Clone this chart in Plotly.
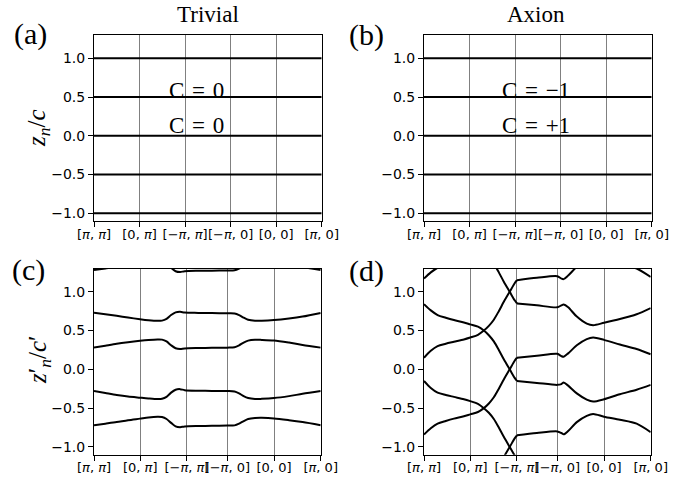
import plotly.graph_objects as go

W, H = 687, 479

# ---------------- data ----------------
TICK_LABELS = ["[<i>π</i>, <i>π</i>]", "[0, <i>π</i>]", "[−<i>π</i>, <i>π</i>]",
               "[−<i>π</i>, 0]", "[0, 0]", "[<i>π</i>, 0]"]
TOP_TICKS = [0, 1, 2, 3, 4, 5]
BOTTOM_TICKS = [0, 1.02, 2.05, 2.94, 3.97, 5.0]
Y_TICKS = [-1.0, -0.5, 0.0, 0.5, 1.0]
Y_TICK_TEXT = ["−1.0", "−0.5", "0.0", "0.5", "1.0"]

# (a) trivial and (b) axion: flat Wannier centres z_n/c
TRIVIAL_LEVELS = [-1.0, -0.5, 0.0, 0.5, 1.0]
AXION_LEVELS = [-1.0, -0.5, 0.0, 0.5, 1.0]
TRIVIAL_CHERN = ["C\u2004=\u20040", "C\u2004=\u20040"]
AXION_CHERN = ["C\u2004=\u2004−1", "C\u2004=\u2004+1"]

# (c) trivial: z'_n/c'
C_X = [0, 0.25, 0.5, 0.75, 1.015, 1.2, 1.4, 1.5, 1.6, 1.7, 1.8, 1.9, 2.0, 2.3, 2.6,
       2.94, 3.1, 3.2, 3.3, 3.4, 3.55, 3.7, 3.97, 4.3, 4.6, 5.0]
C_BAND1 = [0.73, 0.71, 0.69, 0.668, 0.646, 0.633, 0.625, 0.628, 0.65, 0.70, 0.735, 0.742,
           0.732, 0.728, 0.725, 0.722, 0.72, 0.70, 0.667, 0.64, 0.627, 0.627, 0.635, 0.655,
           0.68, 0.727]
C_BAND2 = [0.28, 0.305, 0.33, 0.35, 0.368, 0.378, 0.385, 0.383, 0.36, 0.31, 0.272, 0.262,
           0.27, 0.275, 0.278, 0.28, 0.285, 0.31, 0.345, 0.37, 0.382, 0.38, 0.372, 0.345,
           0.315, 0.28]
C_BAND3 = [-0.28, -0.305, -0.33, -0.35, -0.365, -0.375, -0.383, -0.38, -0.355, -0.30,
           -0.262, -0.255, -0.268, -0.275, -0.278, -0.28, -0.285, -0.31, -0.345, -0.37,
           -0.382, -0.38, -0.37, -0.345, -0.315, -0.28]
C_BAND4 = [-0.72, -0.70, -0.68, -0.655, -0.635, -0.62, -0.612, -0.615, -0.64, -0.69,
           -0.735, -0.745, -0.735, -0.73, -0.728, -0.725, -0.722, -0.70, -0.667, -0.64,
           -0.627, -0.625, -0.632, -0.655, -0.68, -0.72]
C_BAND4_IMAGE = [1.28, 1.30, 1.32, 1.345, 1.365, 1.38, 1.388, 1.385, 1.36, 1.31, 1.265,
                 1.255, 1.265, 1.27, 1.272, 1.275, 1.278, 1.30, 1.333, 1.36, 1.373, 1.375,
                 1.368, 1.345, 1.32, 1.28]

# (d) axion: z'_n/c'  (left part with crossings, right part gapped)
D_X_LEFT = [0, 0.15, 0.3, 0.48, 0.66, 0.88, 1.02, 1.19, 1.32, 1.43, 1.54, 1.65, 1.76,
            1.89, 2.0, 2.05]
D_L1_LEFT = [0.15, 0.24, 0.30, 0.33, 0.355, 0.385, 0.41, 0.445, 0.50, 0.56, 0.64, 0.75,
             0.87, 1.0, 1.11, 1.15]
D_L2_LEFT = [0.84, 0.76, 0.70, 0.665, 0.635, 0.605, 0.58, 0.55, 0.50, 0.44, 0.36, 0.25,
             0.13, 0.0, -0.11, -0.15]
D_L3_LEFT = [-0.15, -0.24, -0.30, -0.33, -0.355, -0.385, -0.41, -0.445, -0.50, -0.56,
             -0.64, -0.75, -0.87, -1.0, -1.11, -1.15]
D_L4_LEFT = [-0.84, -0.76, -0.70, -0.665, -0.635, -0.605, -0.58, -0.55, -0.50, -0.44,
             -0.36, -0.25, -0.13, 0.0, 0.11, 0.15]
D_L4_IMAGE_LEFT = [1.17, 1.25, 1.31, 1.34, 1.365, 1.395, 1.42, 1.45, 1.50, 1.56, 1.64,
                   1.75, 1.87, 2.0, 2.11, 2.15]
D_L3_IMAGE_LEFT = [1.85, 1.76, 1.70, 1.67, 1.645, 1.615, 1.59, 1.555, 1.50, 1.44, 1.36,
                   1.25, 1.13, 1.0, 0.89, 0.85]
D_L1_IMAGE_LEFT = [-1.85, -1.76, -1.70, -1.67, -1.645, -1.615, -1.59, -1.555, -1.50,
                   -1.44, -1.36, -1.25, -1.13, -1.0, -0.89, -0.85]

D_X_RIGHT = [2.05, 2.49, 2.94, 3.03, 3.08, 3.18, 3.37, 3.59, 3.73, 3.97, 4.32, 4.69, 5.0]
D_BAND_A = [1.15, 1.18, 1.20, 1.17, 1.163, 1.21, 1.32, 1.40, 1.43, 1.40, 1.35, 1.30, 1.19]
D_BAND_B = [0.85, 0.825, 0.80, 0.825, 0.835, 0.80, 0.68, 0.59, 0.57, 0.60, 0.648, 0.71, 0.79]
D_BAND_C = [0.15, 0.175, 0.20, 0.17, 0.163, 0.206, 0.31, 0.39, 0.41, 0.38, 0.32, 0.262, 0.195]
D_BAND_D = [-0.15, -0.175, -0.20, -0.19, -0.17, -0.21, -0.31, -0.39, -0.415, -0.385,
            -0.32, -0.262, -0.2]
D_BAND_E = [-0.85, -0.82, -0.80, -0.82, -0.837, -0.794, -0.68, -0.60, -0.575, -0.61,
            -0.65, -0.70, -0.81]

# ---------------- figure ----------------
fig = go.Figure()
LINE = dict(color="black", width=2)


def add_line(x, y, ax, shape="spline"):
    fig.add_trace(go.Scatter(x=x, y=y, mode="lines", line=dict(LINE, shape=shape,
                             smoothing=0.8 if shape == "spline" else None),
                             xaxis="x" + ax, yaxis="y" + ax, showlegend=False,
                             hoverinfo="skip"))


for lev in TRIVIAL_LEVELS:
    add_line([TOP_TICKS[0], TOP_TICKS[-1]], [lev, lev], "", "linear")
for lev in AXION_LEVELS:
    add_line([TOP_TICKS[0], TOP_TICKS[-1]], [lev, lev], "2", "linear")

for band in (C_BAND1, C_BAND2, C_BAND3, C_BAND4, C_BAND4_IMAGE):
    add_line(C_X, band, "3")

for band in (D_L1_LEFT, D_L2_LEFT, D_L3_LEFT, D_L4_LEFT, D_L4_IMAGE_LEFT,
             D_L3_IMAGE_LEFT, D_L1_IMAGE_LEFT):
    add_line(D_X_LEFT, band, "4")
for band in (D_BAND_A, D_BAND_B, D_BAND_C, D_BAND_D, D_BAND_E):
    add_line(D_X_RIGHT, band, "4")


def px(x):
    return x / W


def py(y):
    return 1 - y / H


common = dict(showline=True, linecolor="black", linewidth=1, mirror=True,
              ticks="outside", ticklen=5, tickwidth=1, tickcolor="black",
              zeroline=False, automargin=False)


def xaxis(domain, ticks, anchor):
    return dict(common, domain=domain, anchor=anchor, range=[0, 5], tickvals=ticks,
                ticktext=TICK_LABELS, tickangle=0, showgrid=True, gridcolor="#808080",
                gridwidth=1, ticklabelstandoff=-4,
                tickfont=dict(family="DejaVu Sans", size=13, color="black"))


def yaxis(domain, anchor):
    return dict(common, domain=domain, anchor=anchor, range=[-1.1, 1.3],
                tickvals=Y_TICKS, ticktext=Y_TICK_TEXT, showgrid=False,
                tickfont=dict(family="DejaVu Sans", size=14, color="black"))


top_dom = [py(221), py(35)]
bot_dom = [py(454.7), py(268.5)]

fig.update_layout(
    width=W, height=H, margin=dict(l=0, r=0, t=0, b=0, autoexpand=False),
    paper_bgcolor="white", plot_bgcolor="white",
    xaxis=xaxis([px(94), px(321.7)], TOP_TICKS, "y"),
    yaxis=yaxis(top_dom, "x"),
    xaxis2=xaxis([px(424), px(651.7)], TOP_TICKS, "y2"),
    yaxis2=yaxis(top_dom, "x2"),
    xaxis3=xaxis([px(94), px(320.7)], BOTTOM_TICKS, "y3"),
    yaxis3=yaxis(bot_dom, "x3"),
    xaxis4=xaxis([px(424), px(650.7)], BOTTOM_TICKS, "y4"),
    yaxis4=yaxis(bot_dom, "x4"),
)

SERIF = "Liberation Serif"
ann = []


def text(x, y, s, size, angle=0, xref="paper", yref="paper"):
    ann.append(dict(x=x, y=y, xref=xref, yref=yref, text=s, showarrow=False,
                    xanchor="center", yanchor="middle", textangle=angle,
                    font=dict(family=SERIF, size=size, color="black")))


text(px(208), py(15), "Trivial", 23)
text(px(536), py(15), "Axion", 23)
text(px(30), py(34), "(a)", 30)
text(px(367), py(35), "(b)", 30)
text(px(28), py(270), "(c)", 30)
text(px(367), py(271), "(d)", 30)
text(px(39), py(128), "<i>z<sub>n</sub></i>/<i>c</i>", 25, -90)
text(px(39), py(360), "<i>z</i>′<sub><i>n</i></sub>/<i>c</i>′", 25, -90)
text(2.24, 0.59, TRIVIAL_CHERN[0], 23, 0, "x", "y")
text(2.24, 0.126, TRIVIAL_CHERN[1], 23, 0, "x", "y")
text(2.46, 0.59, AXION_CHERN[0], 23, 0, "x2", "y2")
text(2.46, 0.126, AXION_CHERN[1], 23, 0, "x2", "y2")
fig.update_layout(annotations=ann)

fig.write_html("out.html", config={"displayModeBar": False},
               post_script="document.body.style.margin='0px';"
                           "document.body.style.overflow='hidden';")
